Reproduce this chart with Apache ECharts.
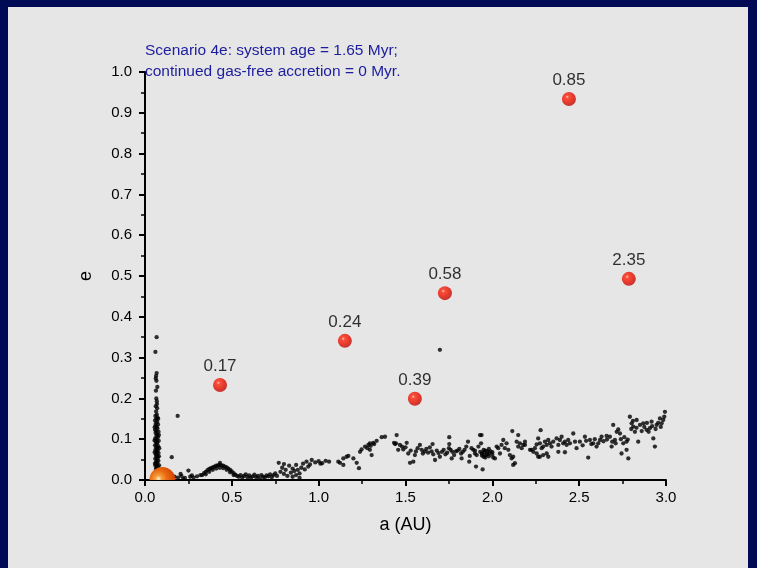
<!DOCTYPE html>
<html><head><meta charset="utf-8">
<script src="https://cdn.jsdelivr.net/npm/echarts@6/dist/echarts.min.js"></script>
<style>html,body{margin:0;padding:0;background:#000a55}#c{width:757px;height:568px}</style>
</head><body><div id="c"></div>
<script>
const titleLines = ['Scenario 4e: system age = 1.65 Myr;', 'continued gas-free accretion = 0 Myr.'];
const xTicks = [0, 0.5, 1.0, 1.5, 2.0, 2.5, 3.0];
const yTicks = [0, 0.1, 0.2, 0.3, 0.4, 0.5, 0.6, 0.7, 0.8, 0.9, 1.0];
const planetMass = ['0.17', '0.24', '0.39', '0.58', '0.85', '2.35'];
const planetA = [0.432, 1.151, 1.554, 1.727, 2.441, 2.786];
const planetE = [0.233, 0.341, 0.199, 0.458, 0.934, 0.493];
const starA = [0.10];
const starE = [0.0];
const debris = [
[0.067,0.350],[0.060,0.314],[0.067,0.262],[0.064,0.255],[0.062,0.249],[0.066,0.243],[0.063,0.219],[0.065,0.200],[0.068,0.193],[0.062,0.181],[0.070,0.176],[0.064,0.168],[0.068,0.160],[0.060,0.157],[0.072,0.153],[0.065,0.150],[0.058,0.146],[0.070,0.143],[0.063,0.139],[0.075,0.136],[0.060,0.133],[0.068,0.130],[0.072,0.126],[0.058,0.123],[0.065,0.120],[0.078,0.118],[0.061,0.115],[0.070,0.112],[0.066,0.108],[0.074,0.105],[0.059,0.102],[0.068,0.099],[0.079,0.096],[0.062,0.094],[0.071,0.091],[0.066,0.088],[0.058,0.085],[0.076,0.083],[0.064,0.080],[0.070,0.077],[0.060,0.074],[0.073,0.072],[0.067,0.069],[0.078,0.066],[0.062,0.063],[0.070,0.061],[0.065,0.058],[0.074,0.055],[0.059,0.052],[0.068,0.049],[0.077,0.047],[0.063,0.044],[0.071,0.041],[0.066,0.038],[0.060,0.035],[0.074,0.033],[0.068,0.030],[0.063,0.027],[0.072,0.025],[0.067,0.022],[0.075,0.019],[0.070,0.016],
[0.076,0.150],[0.056,0.129],[0.080,0.110],[0.055,0.097],[0.082,0.078],[0.056,0.068],[0.080,0.058],[0.057,0.040],[0.081,0.036],[0.058,0.018],[0.069,0.186],[0.071,0.228],
[0.188,0.157],[0.154,0.056],[0.205,0.015],[0.250,0.023],[1.698,0.319],
[0.17,0.008],[0.19,0.006],[0.21,0.010],[0.23,0.005],[0.26,0.008],[0.28,0.006],[0.30,0.009],[0.32,0.012],[0.22,0.003],[0.27,0.011],
[0.33,0.012],[0.34,0.017],[0.35,0.020],[0.36,0.024],[0.37,0.027],[0.38,0.029],[0.39,0.031],[0.40,0.033],[0.41,0.035],[0.42,0.036],[0.43,0.037],[0.44,0.036],[0.45,0.035],[0.46,0.033],[0.47,0.031],[0.48,0.028],[0.49,0.025],[0.50,0.021],[0.51,0.017],[0.52,0.013],[0.53,0.010],
[0.35,0.014],[0.37,0.020],[0.39,0.025],[0.41,0.028],[0.43,0.030],[0.45,0.029],[0.47,0.025],[0.49,0.019],[0.51,0.012],[0.432,0.042],
[0.54,0.008],[0.55,0.012],[0.56,0.006],[0.57,0.010],[0.58,0.014],[0.59,0.007],[0.60,0.011],[0.61,0.005],[0.62,0.009],[0.63,0.013],[0.64,0.007],[0.65,0.010],[0.66,0.004],[0.67,0.012],[0.68,0.008],[0.69,0.006],[0.70,0.011],[0.71,0.009],[0.72,0.014],[0.73,0.007],[0.74,0.012],[0.75,0.016],[0.76,0.010],
[0.77,0.042],[0.78,0.020],[0.79,0.030],[0.80,0.039],[0.80,0.015],[0.81,0.025],[0.82,0.010],[0.83,0.035],[0.84,0.018],[0.85,0.028],[0.85,0.008],[0.86,0.022],[0.87,0.037],[0.87,0.012],[0.88,0.025],[0.89,0.016],[0.89,0.005],
[0.90,0.030],[0.91,0.040],[0.92,0.026],[0.93,0.045],[0.94,0.033],[0.95,0.038],[0.96,0.049],[0.98,0.043],[1.00,0.046],[1.02,0.041],[1.04,0.047],[1.06,0.045],[1.01,0.040],[1.113,0.045],[1.123,0.042],[1.142,0.053],[1.161,0.057],[1.171,0.059],[1.142,0.037],[1.20,0.053],[1.219,0.042],[1.232,0.029],[1.238,0.069],[1.247,0.075],[1.267,0.082],[1.286,0.086],[1.295,0.090],[1.314,0.091],[1.334,0.096],[1.363,0.105],[1.382,0.106],[1.295,0.074],[1.305,0.061],[1.449,0.110],[1.445,0.090],[1.458,0.074],[1.30,0.084],[1.32,0.088],[1.28,0.078],
[1.434,0.091],[1.440,0.088],[1.468,0.086],[1.507,0.091],[1.487,0.075],[1.516,0.065],[1.526,0.042],[1.545,0.045],[1.554,0.061],[1.583,0.086],[1.593,0.074],[1.60,0.065],[1.62,0.076],[1.63,0.067],[1.64,0.080],[1.65,0.070],[1.66,0.063],[1.656,0.088],[1.67,0.049],[1.698,0.057],[1.71,0.069],[1.72,0.074],[1.74,0.067],[1.75,0.078],[1.77,0.069],[1.78,0.061],[1.80,0.072],[1.752,0.105],[1.752,0.088],[1.766,0.053],[1.82,0.065],[1.84,0.074],[1.85,0.082],[1.86,0.094],[1.87,0.059],[1.88,0.078],[1.823,0.053],[1.867,0.045],[1.89,0.074],[1.90,0.065],[1.91,0.061],[1.92,0.082],[1.93,0.069],[1.94,0.065],[1.95,0.074],[1.96,0.061],[1.97,0.070],[1.98,0.065],[1.929,0.110],[1.935,0.090],[1.906,0.033],[1.944,0.026],
[1.50,0.080],[1.53,0.072],[1.56,0.070],[1.57,0.078],[1.61,0.070],[1.68,0.072],[1.69,0.066],[1.73,0.063],[1.76,0.074],[1.79,0.070],[1.81,0.076],[1.83,0.069],[1.90,0.072],[1.48,0.082],
[1.94,0.060],[1.95,0.068],[1.96,0.055],[1.97,0.063],[1.98,0.058],[1.99,0.070],[2.00,0.062],[2.005,0.055],[1.96,0.072],[1.98,0.076],[2.00,0.068],[1.95,0.057],[1.938,0.110],
[2.015,0.053],[2.025,0.082],[2.034,0.078],[2.044,0.065],[2.053,0.086],[2.063,0.098],[2.072,0.078],[2.082,0.090],[2.092,0.074],[2.101,0.061],[2.111,0.053],[2.120,0.057],[2.120,0.037],[2.130,0.041],[2.115,0.120],[2.149,0.110],[2.140,0.094],[2.149,0.082],[2.159,0.090],[2.169,0.078],[2.178,0.086],[2.188,0.094],[2.226,0.074],[2.236,0.069],[2.245,0.078],[2.255,0.087],[2.278,0.122],[2.264,0.102],[2.274,0.090],[2.284,0.078],[2.293,0.082],[2.303,0.094],[2.313,0.086],[2.322,0.098],[2.332,0.090],[2.341,0.082],[2.351,0.094],[2.370,0.102],[2.380,0.086],[2.389,0.098],[2.399,0.106],[2.408,0.090],[2.418,0.094],[2.428,0.086],[2.437,0.098],[2.447,0.090],[2.466,0.114],[2.476,0.094],[2.485,0.078],[2.274,0.057],[2.293,0.061],[2.313,0.065],[2.322,0.057],[2.380,0.069],[2.418,0.068],[2.188,0.086],[2.255,0.065],[2.264,0.057],[2.217,0.074],
[2.504,0.094],[2.533,0.106],[2.552,0.055],[2.562,0.098],[2.581,0.090],[2.600,0.082],[2.620,0.098],[2.629,0.106],[2.658,0.108],[2.677,0.106],[2.687,0.082],[2.696,0.135],[2.706,0.098],[2.716,0.118],[2.725,0.124],[2.735,0.114],[2.744,0.065],[2.754,0.090],[2.773,0.094],[2.773,0.074],[2.783,0.053],[2.792,0.155],[2.802,0.139],[2.812,0.131],[2.821,0.118],[2.831,0.147],[2.840,0.094],[2.850,0.135],[2.869,0.139],[2.888,0.123],[2.907,0.127],[2.917,0.143],[2.927,0.102],[2.936,0.082],[2.946,0.135],[2.965,0.151],[2.975,0.139],[2.984,0.147],[2.994,0.167],
[2.80,0.125],[2.81,0.145],[2.83,0.128],[2.86,0.120],[2.875,0.130],[2.89,0.140],[2.90,0.118],[2.92,0.132],[2.94,0.125],[2.955,0.140],[2.97,0.130],[2.99,0.155],[2.52,0.085],[2.54,0.096],[2.57,0.088],[2.59,0.100],[2.61,0.090],[2.64,0.095],[2.66,0.099],[2.69,0.094],[2.71,0.090],[2.74,0.100],[2.76,0.105],[2.78,0.099]
];

const chart = echarts.init(document.getElementById('c'), null, {renderer: 'canvas'});
const font = '"Liberation Sans", Arial, sans-serif';
const redBall = {type: 'radial', x: 0.38, y: 0.35, r: 0.65, colorStops: [
  {offset: 0, color: '#ffc8c0'}, {offset: 0.18, color: '#ff2a10'}, {offset: 0.6, color: '#e81000'}, {offset: 1, color: '#c00800'}]};
const orangeBall = {type: 'radial', x: 0.35, y: 0.45, r: 0.65, colorStops: [
  {offset: 0, color: '#fff4d0'}, {offset: 0.18, color: '#f4a040'}, {offset: 0.5, color: '#ea6a10'}, {offset: 1, color: '#d04000'}]};
const axisCommon = {
  axisLine: {show: true, lineStyle: {color: '#000', width: 2}},
  axisTick: {show: true, inside: false, length: 6, lineStyle: {color: '#000', width: 2}},
  minorTick: {show: true, splitNumber: 2, length: 4, lineStyle: {color: '#000', width: 1.5}},
  splitLine: {show: false},
  axisLabel: {color: '#000', fontFamily: font, fontSize: 15, formatter: v => v.toFixed(1)},
  nameTextStyle: {color: '#000', fontFamily: font, fontSize: 18}
};
chart.setOption({
  backgroundColor: '#000a55',
  animation: false,
  graphic: [{type: 'rect', z: -10, shape: {x: 8, y: 7, width: 740, height: 561}, style: {fill: '#e6e6e6'}}],
  title: {text: titleLines.join('\n'), left: 145, top: 40, padding: 0,
    textStyle: {color: '#1c1c9e', fontFamily: font, fontSize: 15.5, fontWeight: 'normal', lineHeight: 21}},
  grid: {left: 145, right: 91, top: 72, bottom: 88},
  xAxis: Object.assign({}, axisCommon, {type: 'value', min: xTicks[0], max: xTicks[xTicks.length - 1], interval: 0.5,
    name: 'a (AU)', nameLocation: 'middle', nameGap: 36,
    axisLabel: Object.assign({}, axisCommon.axisLabel, {margin: 10})}),
  yAxis: Object.assign({}, axisCommon, {type: 'value', min: yTicks[0], max: yTicks[yTicks.length - 1], interval: 0.1,
    name: 'e', nameLocation: 'middle', nameGap: 50,
    axisLabel: Object.assign({}, axisCommon.axisLabel, {margin: 13})}),
  series: [
    {type: 'scatter', data: debris, symbolSize: 4.3, itemStyle: {color: '#000'}, z: 2, silent: true},
    {type: 'custom', data: starA.map((a, i) => [a, starE[i]]), z: 3, clip: true, silent: true,
      renderItem: (params, api) => {
        const p = api.coord([api.value(0), api.value(1)]);
        return {type: 'circle', shape: {cx: p[0], cy: p[1], r: 13}, style: {fill: orangeBall}};
      }},
    {type: 'scatter', data: planetA.map((a, i) => [a, planetE[i]]), symbolSize: 14, itemStyle: {color: redBall}, z: 4,
      label: {show: true, position: 'top', distance: 3, formatter: p => planetMass[p.dataIndex], color: '#000', fontFamily: font, fontSize: 17}}
  ]
});
</script></body></html>
